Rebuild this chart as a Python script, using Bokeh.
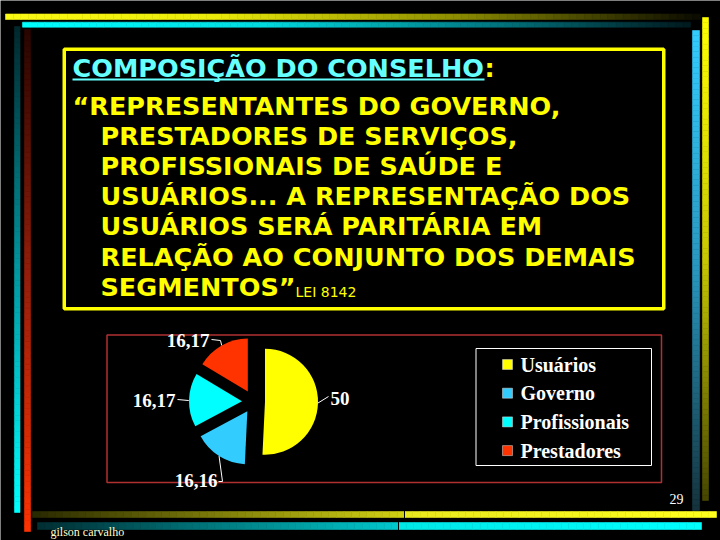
import math
import numpy as np
from bokeh.plotting import figure
from bokeh.models import Range1d
from bokeh.core.properties import value
from bokeh.embed import file_html
from bokeh.resources import INLINE

# ---------------- data ----------------
categories = ["Usuários", "Governo", "Profissionais", "Prestadores"]
shares = [50, 16.16, 16.17, 16.17]
share_labels = ["50", "16,16", "16,17", "16,17"]
colors = ["#ffff00", "#33ccff", "#00ffff", "#ff3300"]

title_text = "COMPOSIÇÃO DO CONSELHO"
quote_lines = [
    "“REPRESENTANTES DO GOVERNO,",
    "PRESTADORES DE SERVIÇOS,",
    "PROFISSIONAIS DE SAÚDE E",
    "USUÁRIOS... A REPRESENTAÇÃO DOS",
    "USUÁRIOS SERÁ PARITÁRIA EM",
    "RELAÇÃO AO CONJUNTO DOS DEMAIS",
    "SEGMENTOS”",
]
law_ref = "LEI 8142"
page_number = "29"
author = "gilson carvalho"

# ---------------- figure (data coords = page pixels, y negated) ----------------
W, H = 720, 540
p = figure(width=W, height=H, x_range=Range1d(0, W), y_range=Range1d(-H, 0),
           output_backend="svg", toolbar_location=None, min_border=0,
           x_axis_location=None, y_axis_location=None)
p.grid.visible = False
p.background_fill_color = "black"
p.border_fill_color = "black"
p.outline_line_color = None


def interp(stops, t):
    for (t0, c0), (t1, c1) in zip(stops[:-1], stops[1:]):
        if t <= t1:
            f = 0 if t1 == t0 else (t - t0) / (t1 - t0)
            c = [int(round(a + (b - a) * f)) for a, b in zip(c0, c1)]
            return "#%02x%02x%02x" % tuple(c)
    return "#%02x%02x%02x" % tuple(stops[-1][1])


def gradient_bar(x0, x1, y0, y1, stops, vertical=False, n=90):
    ts = np.linspace(0, 1, n + 1)
    L, R, T, B, C = [], [], [], [], []
    for i in range(n):
        tm = (ts[i] + ts[i + 1]) / 2
        col = interp(stops, tm)
        if vertical:
            a = y0 + ts[i] * (y1 - y0)
            b = y0 + ts[i + 1] * (y1 - y0)
            L.append(x0); R.append(x1); T.append(-a); B.append(-b)
        else:
            a = x0 + ts[i] * (x1 - x0)
            b = x0 + ts[i + 1] * (x1 - x0)
            L.append(a); R.append(b); T.append(-y0); B.append(-y1)
        C.append(col)
    p.quad(left=L, right=R, top=T, bottom=B, fill_color=C, line_color=C, line_width=0.6)


# decorative frame bars
gradient_bar(5, 700, 13.5, 19, [(0, (250, 250, 20)), (0.3, (235, 235, 10)), (0.65, (140, 140, 0)), (1, (10, 10, 0))])
gradient_bar(22, 690, 21.7, 26.7, [(0, (0, 255, 255)), (0.35, (0, 220, 225)), (0.7, (0, 120, 130)), (1, (0, 25, 30))])
gradient_bar(14, 19.5, 26, 512, [(0, (0, 40, 45)), (0.5, (0, 150, 160)), (1, (0, 255, 255))], vertical=True)
gradient_bar(24, 30, 29, 531, [(0, (40, 5, 0)), (0.5, (150, 30, 10)), (1, (255, 50, 0))], vertical=True)
gradient_bar(702, 708, 17, 500, [(0, (255, 255, 0)), (0.5, (200, 200, 0)), (1, (70, 70, 0))], vertical=True)
gradient_bar(692, 699, 30, 510, [(0, (51, 204, 255)), (0.5, (40, 150, 190)), (1, (20, 50, 60))], vertical=True)
gradient_bar(32, 716, 511, 517, [(0, (40, 40, 0)), (0.543, (210, 210, 20)), (0.546, (232, 232, 30)), (1, (255, 255, 30))])
gradient_bar(37, 701, 522, 529, [(0, (0, 45, 50)), (0.542, (0, 200, 205)), (0.546, (0, 232, 232)), (1, (0, 255, 255))])
p.segment(x0=[404, 398], y0=[-508, -520], x1=[404, 398], y1=[-518, -530], line_color="black", line_width=1)

# ---------------- text box ----------------
p.quad(left=[63.75], right=[663.25], top=[-48.75], bottom=[-308.25],
       fill_color=None, line_color="#ffff00", line_width=3.5)

FONT = value("DejaVu Sans")
FS = "25.5px"
p.text(x=[72], y=[-67], text=[title_text], text_font=FONT, text_font_style="bold",
       text_font_size=FS, text_color="#66ffff", text_baseline="middle")
p.segment(x0=[72], y0=[-79], x1=[484], y1=[-79], line_color="#66ffff", line_width=2)
p.text(x=[484], y=[-67], text=[":"], text_font=FONT, text_font_style="bold",
       text_font_size=FS, text_color="#ffff00", text_baseline="middle")

qx = [72] + [100] * (len(quote_lines) - 1)
qy = [-(105 + i * 30.2) for i in range(len(quote_lines))]
p.text(x=qx, y=qy, text=quote_lines, text_font=FONT, text_font_style="bold",
       text_font_size=FS, text_color="#ffff00", text_baseline="middle")
p.text(x=[295], y=[-291], text=[law_ref], text_font=FONT, text_font_size="14px",
       text_color="#ffff00", text_baseline="middle")

# ---------------- chart area ----------------
p.quad(left=[106.5], right=[661], top=[-334.5], bottom=[-482],
       fill_color=None, line_color="#b03030", line_width=1.5)

# exploded pie
cx0, cy0, explode, radius = 253, -401, 11.5, 53
total = sum(shares)
starts, ends, xs, ys, mids = [], [], [], [], []
cum = 0.0
for s in shares:
    a0 = math.radians(90 - cum / total * 360)
    cum += s
    a1 = math.radians(90 - cum / total * 360)
    mid = (a0 + a1) / 2
    starts.append(a1)
    ends.append(a0)
    mids.append(mid)
    xs.append(cx0 + explode * math.cos(mid))
    ys.append(cy0 + explode * math.sin(mid))
p.wedge(x=xs, y=ys, radius=radius, start_angle=starts, end_angle=ends,
        fill_color=colors, line_color=None)

# data labels and leader lines
label_pos = [(330, 398, "left"), (217, 480, "right"), (175, 400, "right"), (209, 340, "right")]
leader_knees = [[(328, 396)], [(222, 481), (218, 481)], [(188, 400), (177, 399)], [(220, 340), (211, 339)]]
lx, ly = [], []
for i in range(len(shares)):
    ax = xs[i] + radius * math.cos(mids[i])
    ay = ys[i] + radius * math.sin(mids[i])
    lx.append([ax] + [k[0] for k in leader_knees[i]])
    ly.append([ay] + [-k[1] for k in leader_knees[i]])
p.multi_line(xs=lx, ys=ly, line_color="white", line_width=1)
for i, (tx, ty, al) in enumerate(label_pos):
    p.text(x=[tx], y=[-ty], text=[share_labels[i]], text_font=value("Liberation Serif"),
           text_font_style="bold", text_font_size="19px", text_color="white",
           text_align=al, text_baseline="middle")

# legend
p.quad(left=[475.5], right=[651], top=[-348], bottom=[-465],
       fill_color=None, line_color="white", line_width=1)
leg_y = [-(364 + i * 28.7) for i in range(len(categories))]
p.scatter(x=[507] * len(categories), y=leg_y, marker="square", size=10,
          fill_color=colors, line_color="#dddddd", line_width=0.5)
p.text(x=[520] * len(categories), y=leg_y, text=categories,
       text_font=value("Liberation Serif"), text_font_style="bold", text_font_size="20px",
       text_color="white", text_baseline="middle")

# footer
p.text(x=[669], y=[-498], text=[page_number], text_font=value("Liberation Serif"),
       text_font_size="14px", text_color="white", text_baseline="middle")
p.text(x=[50], y=[-531], text=[author], text_font=value("Liberation Serif"),
       text_font_size="12px", text_color="#ffffcc", text_baseline="middle")

open("out.html", "w").write(file_html(p, INLINE))
